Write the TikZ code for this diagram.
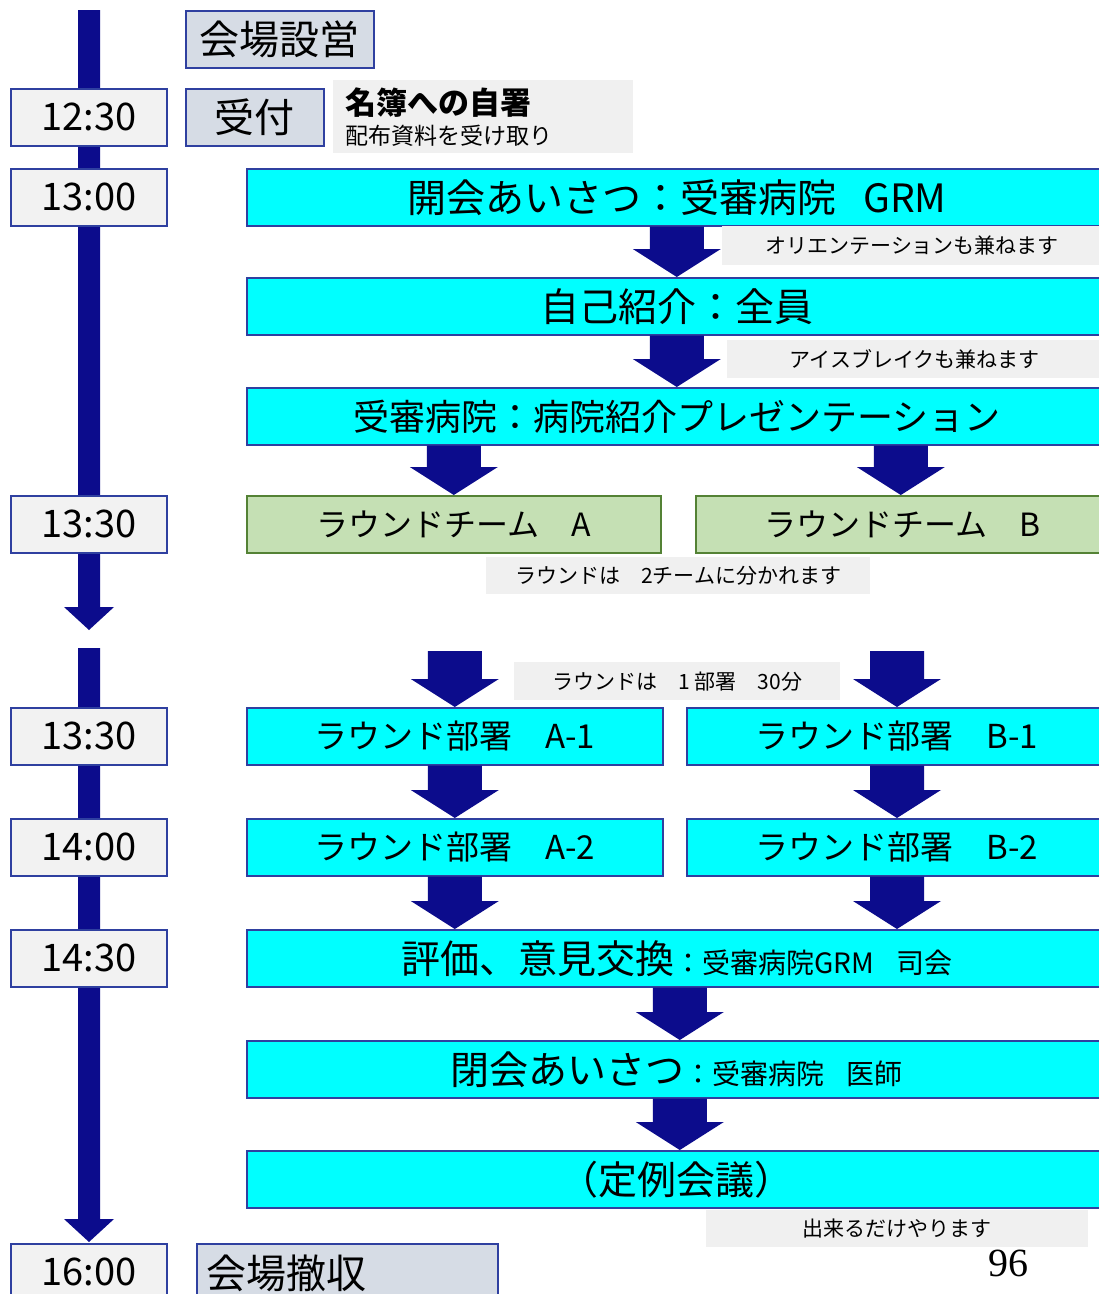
\documentclass[tikz,border=0pt]{standalone}
\usepackage{fontspec}
\setmainfont{Noto Sans CJK JP}
\newfontfamily\numserif{Liberation Serif}
\usetikzlibrary{calc}
\definecolor{navy}{RGB}{12,12,140}
\definecolor{bord}{RGB}{47,64,160}
\definecolor{tfill}{RGB}{242,242,242}
\definecolor{sfill}{RGB}{214,220,229}
\definecolor{cyanf}{RGB}{0,255,255}
\definecolor{gfill}{RGB}{197,224,180}
\definecolor{gbord}{RGB}{84,130,53}
\definecolor{nfill}{RGB}{240,240,240}
\newcommand\fs[1]{\fontsize{#1}{#1}\selectfont}
% block arrow from start point #1 (y) to end point #2 (x and tip)
\newcommand\barrow[2]{%
  \fill[navy] let \p1=#1, \p2=#2 in
    ({\x2-27pt},\y1) -- ({\x2+27pt},\y1) -- ({\x2+27pt},{\y2+28pt}) --
    ({\x2+44pt},{\y2+28pt}) -- (\x2,\y2) -- ({\x2-44pt},{\y2+28pt}) --
    ({\x2-27pt},{\y2+28pt}) -- cycle;}
\newcommand\tline[2]{%
  \fill[navy] let \p1=#1, \p2=#2 in
    ({\x2-11pt},\y1) -- ({\x2+11pt},\y1) -- ({\x2+11pt},{\y2+23pt}) --
    ({\x2+25pt},{\y2+23pt}) -- (\x2,\y2) -- ({\x2-25pt},{\y2+23pt}) --
    ({\x2-11pt},{\y2+23pt}) -- cycle;}
\tikzset{
  box/.style={draw=bord, line width=1.6pt, inner sep=0pt, anchor=north west, minimum height=57pt},
  timebox/.style={box, fill=tfill, minimum width=156pt, font=\fs{38}},
  sbox/.style={box, fill=sfill, font=\fs{40}},
  cbox/.style={box, fill=cyanf, font=\fs{39}},
  gbox/.style={box, draw=gbord, fill=gfill, font=\fs{32}},
  dbox/.style={box, fill=cyanf, font=\fs{33}},
  note/.style={fill=nfill, inner sep=0pt, anchor=north west, font=\fs{21}},
}
\begin{document}
\begin{tikzpicture}[x=1pt,y=-1pt]
\useasboundingbox (0,0) rectangle (1099,1294);
\fill[white] (0,0) rectangle (1099,1294);
% timeline
\coordinate (tl1a) at (89,10);
\coordinate (tl1b) at (89,630);
\coordinate (tl2a) at (89,648);
\coordinate (tl2b) at (89,1242);
\tline{(tl1a)}{(tl1b)}
\tline{(tl2a)}{(tl2b)}
% time boxes
\node[timebox] (t1) at (10,88) {12:30};
\node[timebox] (t2) at (10,168) {13:00};
\node[timebox] (t3) at (10,495) {13:30};
\node[timebox] (t4) at (10,707) {13:30};
\node[timebox] (t5) at (10,818) {14:00};
\node[timebox] (t6) at (10,929) {14:30};
\node[timebox] (t7) at (10,1243) {16:00};
% setup / reception / teardown
\node[sbox, minimum width=188pt] (setup) at (185,10) {会場設営};
\node[sbox, minimum width=138pt] (recep) at (185,88) {受付};
\node[sbox, minimum width=301pt, text width=281pt, align=left, inner xsep=10pt, minimum height=60pt] (tear) at (196,1243) {会場撤収};
\node[note, minimum width=300pt, minimum height=73pt, text width=276pt, align=left, inner xsep=12pt, font=\fs{23}] (sign) at (333,80)
  {{\fs{31}\bfseries 名簿への自署}\\[7pt]配布資料を受け取り};
% main boxes
\node[cbox, minimum width=860pt] (open) at (246,168) {開会あいさつ：受審病院\hspace{0.7em}GRM};
\node[cbox, minimum width=860pt] (self) at (246,277) {自己紹介：全員};
\node[cbox, minimum width=860pt, font=\fs{36}] (hosp) at (246,387) {受審病院：病院紹介プレゼンテーション};
\node[gbox, minimum width=414pt] (teamA) at (246,495) {ラウンドチーム　A};
\node[gbox, minimum width=414pt] (teamB) at (695,495) {ラウンドチーム　B};
\node[dbox, minimum width=416pt] (a1) at (246,707) {ラウンド部署　A-1};
\node[dbox, minimum width=420pt] (b1) at (686,707) {ラウンド部署　B-1};
\node[dbox, minimum width=416pt] (a2) at (246,818) {ラウンド部署　A-2};
\node[dbox, minimum width=420pt] (b2) at (686,818) {ラウンド部署　B-2};
\node[cbox, minimum width=860pt] (eval) at (246,929) {評価、意見交換{\fs{28}：受審病院GRM\hspace{0.8em}司会}};
\node[cbox, minimum width=860pt] (close) at (246,1040) {閉会あいさつ{\fs{28}：受審病院\hspace{0.8em}医師}};
\node[cbox, minimum width=860pt] (meet) at (246,1150) {（定例会議）};
% notes
\node[note, minimum width=380pt, minimum height=39pt] (n1) at (722,226) {オリエンテーションも兼ねます};
\node[note, minimum width=375pt, minimum height=38pt] (n2) at (727,340) {アイスブレイクも兼ねます};
\node[note, minimum width=384pt, minimum height=37pt] (n3) at (486,557) {ラウンドは　2チームに分かれます};
\node[note, minimum width=326pt, minimum height=38pt] (n4) at (514,662) {ラウンドは　1 部署　30分};
\node[note, minimum width=382pt, minimum height=37pt] (n5) at (706,1210) {出来るだけやります};
\node[font=\numserif\fs{40}] (page) at (1008,1263) {96};
% block arrows
\barrow{(open.south)}{(self.north)}
\barrow{(self.south)}{(hosp.north)}
\barrow{(hosp.south)}{(teamA.north)}
\barrow{(hosp.south)}{($(teamB.north)+(-2,0)$)}
\coordinate (sa) at (453,651);
\coordinate (sb) at (897,651);
\barrow{(sa)}{(a1.north)}
\barrow{(sb)}{(sb |- b1.north)}
\barrow{(a1.south)}{(a2.north)}
\barrow{(b1.south)}{(sb |- b2.north)}
\barrow{(a2.south)}{(a2.south |- eval.north)}
\barrow{(b2.south)}{(sb |- eval.north)}
\barrow{(eval.south)}{($(close.north)+(3,0)$)}
\barrow{(close.south)}{($(meet.north)+(3,0)$)}
\end{tikzpicture}
\end{document}
